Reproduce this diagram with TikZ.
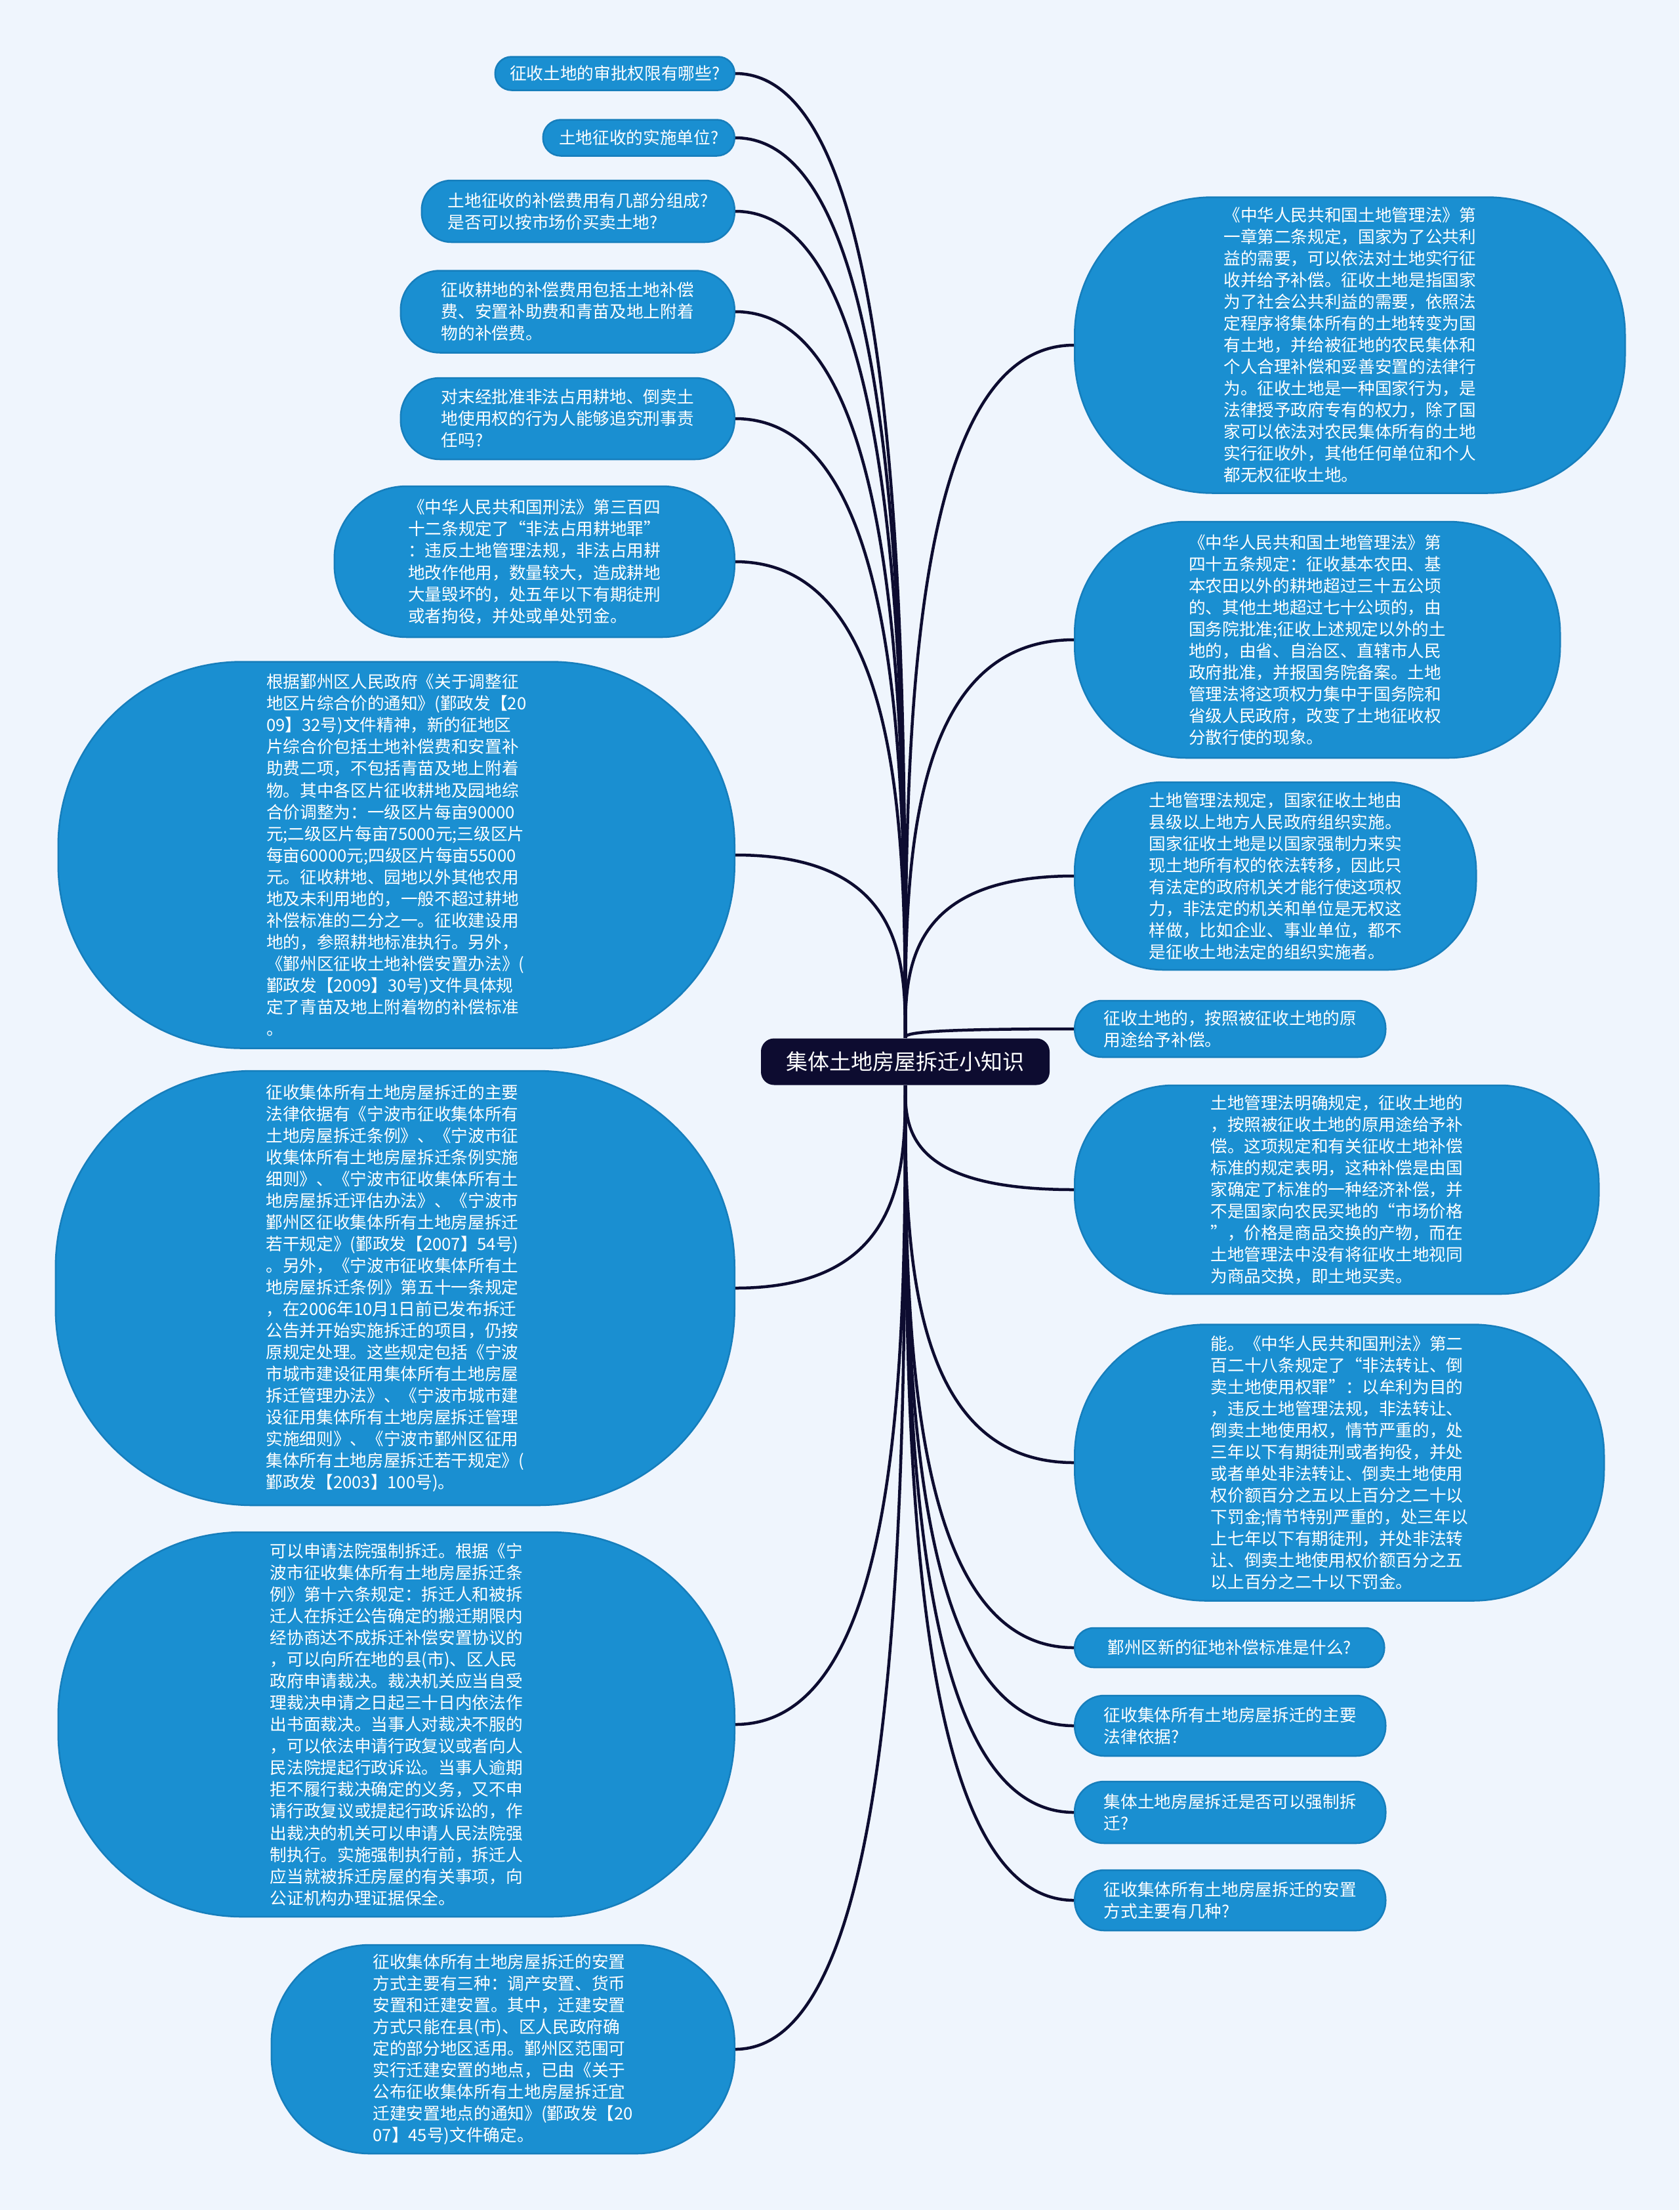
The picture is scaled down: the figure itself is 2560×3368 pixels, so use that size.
\documentclass[tikz,border=0pt]{standalone}
\usepackage{fontspec}
\setmainfont{Noto Sans CJK SC}
\usepackage{tikz}
\usetikzlibrary{calc}
\definecolor{paper}{RGB}{239,245,253}
\definecolor{bubble}{RGB}{26,143,209}
\definecolor{bubbleedge}{RGB}{22,126,188}
\definecolor{ink}{RGB}{13,12,48}

\begin{document}
\begin{tikzpicture}[x=0.1mm, y=-0.1mm,
  bubble/.style={draw=bubbleedge, line width=0.25mm, fill=bubble, text=white,
    align=left, inner sep=0pt, font=\fontsize{7.3}{9.4}\selectfont},
  sz/.style n args={3}{minimum width=#1mm, minimum height=#2mm, rounded corners=#3mm},
  hubbox/.style={fill=ink, rounded corners=2mm, minimum width=44mm,
    minimum height=7.1mm, text=white, font=\fontsize{9.4}{11}\selectfont},
  link/.style={line width=0.45mm, ink},
  branch/.style={to path={.. controls ($(\tikztostart)!.4!(\tikztostart |- \tikztotarget)$)
    and (\tikztostart |- \tikztotarget) .. (\tikztotarget)}}
]
\fill[paper] (0,0) rectangle (2560,3368);
\useasboundingbox (0,0) rectangle (2560,3368);

\node[hubbox] (hub) at (1380,1618) {集体土地房屋拆迁小知识};

% left side
\node[bubble, sz={36.5}{5.1}{2.5}, anchor=east] (approve) at (1121,112) {征收土地的审批权限有哪些?};
\node[bubble, sz={29.2}{5.5}{2.7}, anchor=east] (unit) at (1121,210) {土地征收的实施单位?};
\node[bubble, sz={47.7}{9.4}{4.5}, anchor=east] (compq) at (1121,322)
  {土地征收的补偿费用有几部分组成?\\是否可以按市场价买卖土地?};
\node[bubble, sz={50.9}{12.5}{6}, anchor=east] (compa) at (1121,475)
  {征收耕地的补偿费用包括土地补偿\\费、安置补助费和青苗及地上附着\\物的补偿费。};
\node[bubble, sz={50.9}{12.4}{6}, anchor=east] (crimeq) at (1121,638)
  {对末经批准非法占用耕地、倒卖土\\地使用权的行为人能够追究刑事责\\任吗?};
\node[bubble, sz={61}{23}{11}, anchor=east] (art342) at (1121,856)
  {《中华人民共和国刑法》第三百四\\十二条规定了“非法占用耕地罪”\\：违反土地管理法规，非法占用耕\\地改作他用，数量较大，造成耕地\\大量毁坏的，处五年以下有期徒刑\\或者拘役，并处或单处罚金。};
\node[bubble, sz={103.1}{58.9}{28}, anchor=east] (yzstd) at (1121,1303)
  {根据鄞州区人民政府《关于调整征\\地区片综合价的通知》(鄞政发【20\\09】32号)文件精神，新的征地区\\片综合价包括土地补偿费和安置补\\助费二项，不包括青苗及地上附着\\物。其中各区片征收耕地及园地综\\合价调整为：一级区片每亩90000\\元;二级区片每亩75000元;三级区片\\每亩60000元;四级区片每亩55000\\元。征收耕地、园地以外其他农用\\地及未利用地的，一般不超过耕地\\补偿标准的二分之一。征收建设用\\地的，参照耕地标准执行。另外，\\《鄞州区征收土地补偿安置办法》(\\鄞政发【2009】30号)文件具体规\\定了青苗及地上附着物的补偿标准\\。};
\node[bubble, sz={103.5}{66.2}{30}, anchor=east] (lawbasis) at (1121,1963)
  {征收集体所有土地房屋拆迁的主要\\法律依据有《宁波市征收集体所有\\土地房屋拆迁条例》、《宁波市征\\收集体所有土地房屋拆迁条例实施\\细则》、《宁波市征收集体所有土\\地房屋拆迁评估办法》、《宁波市\\鄞州区征收集体所有土地房屋拆迁\\若干规定》(鄞政发【2007】54号)\\。另外，《宁波市征收集体所有土\\地房屋拆迁条例》第五十一条规定\\，在2006年10月1日前已发布拆迁\\公告并开始实施拆迁的项目，仍按\\原规定处理。这些规定包括《宁波\\市城市建设征用集体所有土地房屋\\拆迁管理办法》、《宁波市城市建\\设征用集体所有土地房屋拆迁管理\\实施细则》、《宁波市鄞州区征用\\集体所有土地房屋拆迁若干规定》(\\鄞政发【2003】100号)。};
\node[bubble, sz={103.1}{58.6}{28}, anchor=east] (force) at (1121,2628)
  {可以申请法院强制拆迁。根据《宁\\波市征收集体所有土地房屋拆迁条\\例》第十六条规定：拆迁人和被拆\\迁人在拆迁公告确定的搬迁期限内\\经协商达不成拆迁补偿安置协议的\\，可以向所在地的县(市)、区人民\\政府申请裁决。裁决机关应当自受\\理裁决申请之日起三十日内依法作\\出书面裁决。当事人对裁决不服的\\，可以依法申请行政复议或者向人\\民法院提起行政诉讼。当事人逾期\\拒不履行裁决确定的义务，又不申\\请行政复议或提起行政诉讼的，作\\出裁决的机关可以申请人民法院强\\制执行。实施强制执行前，拆迁人\\应当就被拆迁房屋的有关事项，向\\公证机构办理证据保全。};
\node[bubble, sz={70.6}{31.8}{15}, anchor=east] (resettle) at (1121,3123)
  {征收集体所有土地房屋拆迁的安置\\方式主要有三种：调产安置、货币\\安置和迁建安置。其中，迁建安置\\方式只能在县(市)、区人民政府确\\定的部分地区适用。鄞州区范围可\\实行迁建安置的地点，已由《关于\\公布征收集体所有土地房屋拆迁宜\\迁建安置地点的通知》(鄞政发【20\\07】45号)文件确定。};

% right side
\node[bubble, sz={83.9}{45.1}{21}, anchor=west] (art2) at (1637,526)
  {《中华人民共和国土地管理法》第\\一章第二条规定，国家为了公共利\\益的需要，可以依法对土地实行征\\收并给予补偿。征收土地是指国家\\为了社会公共利益的需要，依照法\\定程序将集体所有的土地转变为国\\有土地，并给被征地的农民集体和\\个人合理补偿和妥善安置的法律行\\为。征收土地是一种国家行为，是\\法律授予政府专有的权力，除了国\\家可以依法对农民集体所有的土地\\实行征收外，其他任何单位和个人\\都无权征收土地。};
\node[bubble, sz={74}{36}{17}, anchor=west] (art45) at (1637,975)
  {《中华人民共和国土地管理法》第\\四十五条规定：征收基本农田、基\\本农田以外的耕地超过三十五公顷\\的、其他土地超过七十公顷的，由\\国务院批准;征收上述规定以外的土\\地的，由省、自治区、直辖市人民\\政府批准，并报国务院备案。土地\\管理法将这项权力集中于国务院和\\省级人民政府，改变了土地征收权\\分散行使的现象。};
\node[bubble, sz={61.2}{28.6}{13.5}, anchor=west] (organ) at (1637,1335)
  {土地管理法规定，国家征收土地由\\县级以上地方人民政府组织实施。\\国家征收土地是以国家强制力来实\\现土地所有权的依法转移，因此只\\有法定的政府机关才能行使这项权\\力，非法定的机关和单位是无权这\\样做，比如企业、事业单位，都不\\是征收土地法定的组织实施者。};
\node[bubble, sz={47.4}{8.6}{4.2}, anchor=west] (origuse) at (1637,1568)
  {征收土地的，按照被征收土地的原\\用途给予补偿。};
\node[bubble, sz={79.9}{31.8}{15}, anchor=west] (market) at (1637,1813)
  {土地管理法明确规定，征收土地的\\，按照被征收土地的原用途给予补\\偿。这项规定和有关征收土地补偿\\标准的规定表明，这种补偿是由国\\家确定了标准的一种经济补偿，并\\不是国家向农民买地的“市场价格\\”，价格是商品交换的产物，而在\\土地管理法中没有将征收土地视同\\为商品交换，即土地买卖。};
\node[bubble, sz={80.7}{42.1}{20}, anchor=west] (art228) at (1637,2229)
  {能。《中华人民共和国刑法》第二\\百二十八条规定了“非法转让、倒\\卖土地使用权罪”：以牟利为目的\\，违反土地管理法规，非法转让、\\倒卖土地使用权，情节严重的，处\\三年以下有期徒刑或者拘役，并处\\或者单处非法转让、倒卖土地使用\\权价额百分之五以上百分之二十以\\下罚金;情节特别严重的，处三年以\\上七年以下有期徒刑，并处非法转\\让、倒卖土地使用权价额百分之五\\以上百分之二十以下罚金。};
\node[bubble, sz={47.2}{6}{2.9}, anchor=west] (yzq) at (1637,2511) {鄞州区新的征地补偿标准是什么?};
\node[bubble, sz={47.4}{9.2}{4.5}, anchor=west] (basisq) at (1637,2630)
  {征收集体所有土地房屋拆迁的主要\\法律依据?};
\node[bubble, sz={47.4}{9.4}{4.5}, anchor=west] (forceq) at (1637,2762)
  {集体土地房屋拆迁是否可以强制拆\\迁?};
\node[bubble, sz={47.4}{9.2}{4.5}, anchor=west] (resettleq) at (1637,2896)
  {征收集体所有土地房屋拆迁的安置\\方式主要有几种?};

% connectors
\draw[link] (hub.north) to[branch] (approve.east);
\draw[link] (hub.north) to[branch] (unit.east);
\draw[link] (hub.north) to[branch] (compq.east);
\draw[link] (hub.north) to[branch] (compa.east);
\draw[link] (hub.north) to[branch] (crimeq.east);
\draw[link] (hub.north) to[branch] (art342.east);
\draw[link] (hub.north) to[branch] (yzstd.east);
\draw[link] (hub.south) to[branch] (lawbasis.east);
\draw[link] (hub.south) to[branch] (force.east);
\draw[link] (hub.south) to[branch] (resettle.east);
\draw[link] (hub.north) to[branch] (art2.west);
\draw[link] (hub.north) to[branch] (art45.west);
\draw[link] (hub.north) to[branch] (organ.west);
\draw[link] (hub.north) to[branch] (origuse.west);
\draw[link] (hub.south) to[branch] (market.west);
\draw[link] (hub.south) to[branch] (art228.west);
\draw[link] (hub.south) to[branch] (yzq.west);
\draw[link] (hub.south) to[branch] (basisq.west);
\draw[link] (hub.south) to[branch] (forceq.west);
\draw[link] (hub.south) to[branch] (resettleq.west);
\end{tikzpicture}
\end{document}
